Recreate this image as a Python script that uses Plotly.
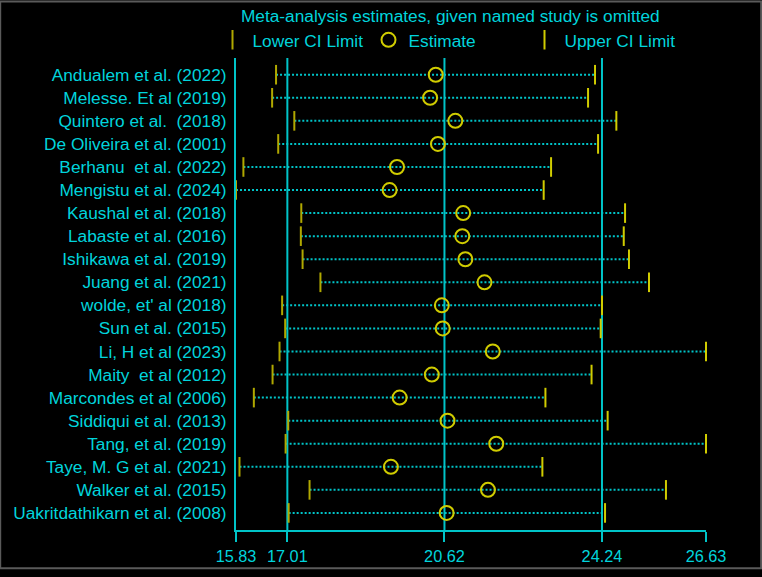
import plotly.graph_objects as go

studies = [
    "Andualem et al. (2022)", "Melesse. Et al (2019)", "Quintero et al.  (2018)",
    "De Oliveira et al. (2001)", "Berhanu  et al. (2022)", "Mengistu et al. (2024)",
    "Kaushal et al. (2018)", "Labaste et al. (2016)", "Ishikawa et al. (2019)",
    "Juang et al. (2021)", "wolde, et' al (2018)", "Sun et al. (2015)",
    "Li, H et al (2023)", "Maity  et al (2012)", "Marcondes et al (2006)",
    "Siddiqui et al. (2013)", "Tang, et al. (2019)", "Taye, M. G et al. (2021)",
    "Walker et al. (2015)", "Uakritdathikarn et al. (2008)",
]
lower = [16.75, 16.66, 17.17, 16.80, 16.00, 15.83, 17.33, 17.32, 17.36, 17.77,
         16.89, 16.96, 16.83, 16.67, 16.24, 17.03, 16.97, 15.91, 17.52, 17.04]
estimate = [20.42, 20.29, 20.87, 20.47, 19.53, 19.36, 21.05, 21.03, 21.10, 21.54,
            20.56, 20.58, 21.73, 20.33, 19.59, 20.69, 21.81, 19.39, 21.62, 20.67]
upper = [24.08, 23.92, 24.57, 24.15, 23.07, 22.90, 24.77, 24.74, 24.86, 25.32,
         24.24, 24.21, 26.63, 24.00, 22.94, 24.37, 26.63, 22.87, 25.71, 24.31]
pooled = [17.01, 20.62, 24.24]
xticks = [15.83, 17.01, 20.62, 24.24, 26.63]

CYAN = "#00D4DC"
LINE = "#00C4C8"
YEL = "#D0CC00"
OLIVE = "#B0A800"
FONT = "Arial, Liberation Sans, sans-serif"
FS = 17.3

# dotted CI lines built from lower/upper
lx, ly = [], []
for s, lo, hi in zip(studies, lower, upper):
    lx += [lo, hi, None]
    ly += [s, s, None]

fig = go.Figure()
fig.add_trace(go.Scatter(x=lx, y=ly, mode="lines", showlegend=False, hoverinfo="skip",
                         line=dict(color=LINE, width=2, dash="2px,2px")))
fig.add_trace(go.Scatter(x=lower, y=studies, mode="markers", name="Lower CI Limit",
                         cliponaxis=False,
                         marker=dict(symbol="line-ns", size=14, line=dict(color=OLIVE, width=2))))
fig.add_trace(go.Scatter(x=estimate, y=studies, mode="markers", name="Estimate",
                         cliponaxis=False,
                         marker=dict(symbol="circle-open", size=14, color=YEL, line=dict(color=YEL, width=2))))
fig.add_trace(go.Scatter(x=upper, y=studies, mode="markers", name="Upper CI Limit",
                         cliponaxis=False,
                         marker=dict(symbol="line-ns", size=14, line=dict(color=YEL, width=2))))

for v in pooled:
    fig.add_vline(x=v, line=dict(color=LINE, width=2), layer="below")

# thin gray frame around the whole picture
fig.add_shape(type="rect", xref="paper", yref="paper",
              x0=-0.5017, x1=1.1174, y0=-0.0809, y1=1.1198,
              line=dict(color="#5a5a5a", width=2))

fig.update_layout(
    width=762, height=577,
    margin=dict(l=236, r=56, t=58, b=39),
    paper_bgcolor="black", plot_bgcolor="black",
    font=dict(family=FONT, size=FS, color=CYAN),
    title=dict(text="Meta-analysis estimates, given named study is omitted",
               xref="container", x=0.591, xanchor="center",
               yref="container", y=0.972, yanchor="middle",
               font=dict(family=FONT, size=FS, color=CYAN)),
    legend=dict(orientation="h", x=-0.05, xanchor="left", y=1.038, yanchor="middle",
                entrywidth=111, entrywidthmode="pixels", itemwidth=30,
                bgcolor="rgba(0,0,0,0)", font=dict(family=FONT, size=FS, color=CYAN),
                itemclick=False, itemdoubleclick=False),
    xaxis=dict(range=[15.83, 26.63], tickvals=xticks, ticktext=[f"{t:.2f}" for t in xticks],
               showgrid=False, zeroline=False, showline=True, linecolor=LINE, linewidth=2,
               ticks="outside", ticklen=10, tickwidth=2, tickcolor=LINE,
               tickfont=dict(family=FONT, size=16.3, color=CYAN)),
    yaxis=dict(type="category", categoryorder="array", categoryarray=studies,
               range=[19.74, -0.725], showgrid=False, zeroline=False,
               showline=True, linecolor=LINE, linewidth=2, ticks="",
               ticklabelstandoff=4,
               tickfont=dict(family=FONT, size=FS, color=CYAN)),
)

fig.write_html("out.html", config={"displayModeBar": False},
               post_script="document.body.style.margin='0';")
